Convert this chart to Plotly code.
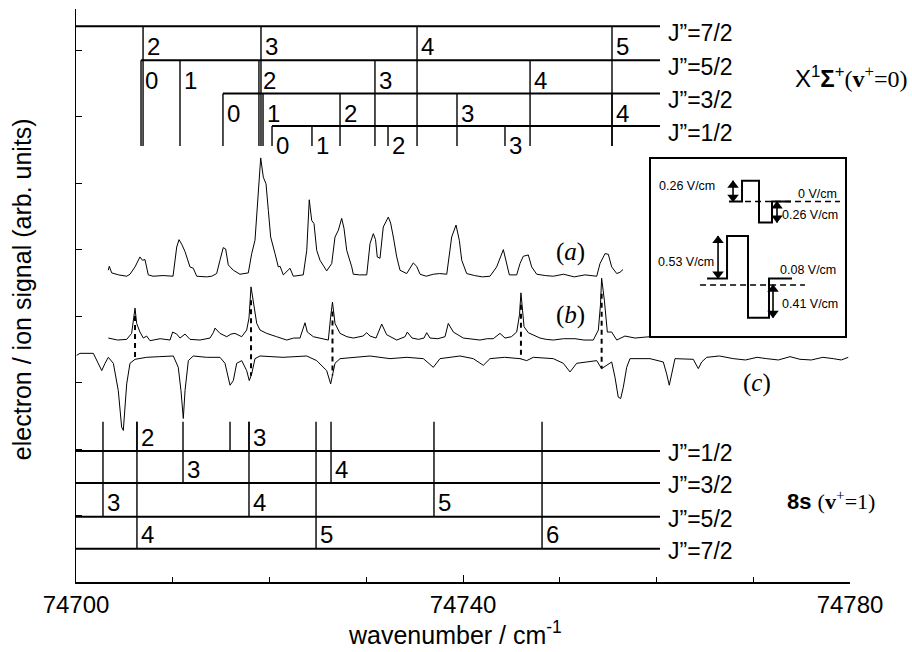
import numpy as np
import plotly.graph_objects as go

WN0 = 74700.0  # all wavenumbers below are given relative to this value (cm-1)

# ---- spectrum (a) ----
a_wn = [3.34, 3.44, 3.69, 4.40, 5.24, 5.58, 6.10, 6.61, 6.87, 7.13, 7.47, 7.96, 9.00, 10.03,
        10.41, 10.65, 10.93, 11.27, 11.78, 12.12, 12.48, 13.51, 14.03, 14.54, 14.88, 15.22,
        15.47, 15.74, 16.26, 16.95, 17.81, 18.16, 18.50, 18.84, 19.09, 19.36, 19.64, 19.88,
        20.12, 20.57, 20.91, 21.09, 21.43, 22.12, 22.46, 23.49, 23.85, 24.11, 24.36, 24.60,
        24.88, 25.22, 25.56, 25.91, 26.43, 26.77, 27.11, 27.46, 27.70, 27.98, 28.50, 28.66,
        29.30, 30.05, 30.39, 30.73, 30.96, 31.14, 31.42, 31.76, 32.28, 32.52, 32.80, 33.15,
        33.49, 34.18, 34.86, 35.21, 35.56, 36.20, 36.93, 37.60, 38.32, 38.83, 39.28, 39.62,
        39.87, 40.38, 41.20, 42.00, 42.79, 43.48, 44.17, 44.52, 44.79, 45.55, 45.89, 46.23,
        46.75, 47.10, 47.62, 48.50, 49.33, 50.40, 51.50, 52.60, 53.82, 54.16, 54.68, 55.02,
        55.37, 55.89, 56.23, 56.54]
a_sig = [0.09, 0.15, 0.05, 0.02, 0.00, 0.03, 0.14, 0.29, 0.24, 0.25, 0.02, 0.00, 0.01, 0.00,
         0.44, 0.55, 0.48, 0.37, 0.14, 0.12, 0.00, -0.01, 0.00, 0.04, 0.24, 0.43,
         0.41, 0.17, 0.09, 0.03, 0.05, 0.34, 0.54, 1.29, 1.78, 1.49, 1.39, 0.99,
         0.59, 0.34, 0.14, 0.15, 0.02, 0.12, 0.00, 0.02, 0.39, 1.15, 0.84, 0.79,
         0.39, 0.24, 0.15, 0.08, 0.19, 0.59, 0.69, 0.87, 0.72, 0.39, 0.14, 0.03,
         0.02, 0.02, 0.49, 0.64, 0.55, 0.29, 0.27, 0.74, 0.89, 0.80, 0.59, 0.29,
         0.09, 0.04, 0.20, 0.15, 0.03, 0.00, 0.03, 0.04, 0.03, 0.59, 0.77, 0.54,
         0.24, 0.04, 0.01, -0.01, 0.00, 0.14, 0.40, 0.19, 0.02, 0.02, 0.19, 0.30,
         0.32, 0.14, 0.03, 0.01, 0.00, 0.03, -0.01, 0.02, 0.00, 0.19, 0.34, 0.33,
         0.14, 0.04, 0.06, 0.10]

# ---- spectrum (b) ----
b_wn = [3.34, 4.30, 5.24, 5.75, 6.10, 6.27, 6.61, 6.96, 7.30, 7.65, 8.70, 9.72, 9.99, 10.41,
        10.75, 11.27, 11.78, 12.82, 13.85, 14.19, 14.37, 14.88, 15.58, 16.02, 16.43, 17.13,
        17.64, 17.88, 18.09, 18.33, 18.68, 19.02, 19.71, 20.74, 21.78, 22.50, 23.15, 23.67,
        23.91, 24.53, 25.30, 26.08, 26.32, 26.51, 26.77, 27.29, 28.00, 28.66, 29.66, 30.05,
        30.39, 31.01, 31.60, 32.11, 33.15, 34.01, 34.24, 34.73, 35.40, 35.97, 36.25, 36.59,
        37.40, 38.14, 38.48, 39.00, 40.03, 40.90, 41.76, 42.50, 43.13, 43.82, 44.34, 45.00,
        45.55, 45.84, 45.99, 46.31, 46.75, 47.96, 48.60, 49.33, 50.40, 51.58, 52.50, 53.47,
        53.99, 54.21, 54.33, 54.61, 54.92, 55.37, 55.89, 56.74, 57.78, 58.50, 59.33]
b_sig = [0.03, 0.00, 0.01, 0.10, 0.48, 0.25, 0.12, 0.03, 0.06, -0.01, 0.02, 0.00, 0.12, 0.09,
         0.03, 0.09, 0.01, 0.00, 0.03, 0.11, 0.18, 0.10, 0.05, 0.09, 0.10, 0.05,
         0.15, 0.33, 0.80, 0.60, 0.25, 0.15, 0.10, 0.05, 0.00, 0.03, 0.03, 0.26,
         0.12, 0.05, 0.02, 0.00, 0.35, 0.57, 0.25, 0.10, 0.05, 0.03, 0.06, 0.11,
         0.06, 0.03, 0.24, 0.08, 0.00, 0.05, 0.12, 0.03, 0.01, 0.03, 0.11, 0.03,
         0.02, 0.05, 0.25, 0.12, 0.03, 0.01, 0.00, 0.02, 0.02, 0.10, 0.03, 0.05,
         0.12, 0.38, 0.71, 0.20, 0.11, 0.03, 0.01, 0.00, 0.02, 0.02, 0.00, 0.00,
         0.15, 0.53, 0.93, 0.60, 0.12, 0.12, 0.00, 0.06, 0.03, 0.04, 0.05]

# ---- spectrum (c) ----
c_wn = [0.07, 0.41, 1.79, 2.14, 2.66, 3.00, 3.34, 3.86, 4.37, 4.72, 4.89, 5.24, 5.58, 6.10,
        7.30, 8.60, 10.06, 10.57, 10.85, 11.09, 11.27, 11.61, 12.12, 13.50, 14.88, 15.40,
        15.92, 16.26, 16.61, 17.13, 17.64, 17.91, 18.16, 18.50, 19.02, 21.40, 23.85, 24.88,
        25.91, 26.32, 26.77, 27.29, 28.66, 30.39, 32.45, 34.20, 35.90, 36.93, 37.62, 39.69,
        41.06, 42.10, 42.79, 44.30, 45.89, 46.58, 47.27, 49.33, 50.37, 51.06, 51.75, 53.82,
        54.33, 54.84, 55.37, 55.71, 56.05, 56.30, 56.57, 56.92, 57.26, 59.33, 60.70, 61.05,
        61.32, 61.57, 61.91, 63.80, 64.32, 64.67, 65.19, 66.50, 67.94, 69.20, 70.40, 71.38,
        72.60, 73.80, 74.83, 76.00, 77.20, 78.27, 79.10, 79.82]
c_sig = [0.03, 0.06, 0.06, -0.05, -0.20, -0.09, 0.00, -0.09, -0.50, -1.05, -1.10, -0.40, -0.09, -0.03,
         0.00, 0.01, 0.02, -0.15, -0.50, -0.92, -0.50, -0.05, 0.02, 0.00, 0.00, -0.09,
         -0.42, -0.35, -0.09, -0.05, -0.20, -0.35, -0.25, -0.02, 0.02, 0.00, 0.02, -0.05,
         -0.20, -0.40, -0.09, -0.02, 0.00, 0.02, -0.02, 0.00, -0.02, -0.15, -0.02, 0.02,
         -0.02, -0.12, -0.02, 0.00, -0.02, -0.05, 0.00, -0.02, -0.09, -0.22, -0.09, -0.05,
         -0.17, -0.12, -0.07, -0.30, -0.60, -0.62, -0.45, -0.15, -0.02, -0.02, -0.07, -0.25,
         -0.42, -0.25, -0.02, -0.03, -0.17, -0.07, 0.00, 0.02, -0.02, -0.04, 0.00, -0.02,
         -0.04, 0.01, -0.03, -0.04, 0.00, -0.02, -0.04, 0.00]

# lines common to (b) and (c), joined by dashed markers
common_wn = [6.10, 18.09, 26.51, 45.99, 54.33]

# ---- rotational assignment ladders: (position, N label) for each J" ----
ion_rows = ["7/2", "5/2", "3/2", "1/2"]
ion_lines = {
    "7/2": [(6.93, "2"), (19.12, "3"), (35.25, "4"), (55.40, "5")],
    "5/2": [(6.72, "0"), (10.75, "1"), (18.91, "2"), (30.90, "3"), (46.93, "4")],
    "3/2": [(15.19, "0"), (19.33, "1"), (27.29, "2"), (39.38, "3"), (55.40, "4")],
    "1/2": [(20.26, "0"), (24.39, "1"), (32.25, "2"), (44.34, "3")],
}
ryd_rows = ["1/2", "3/2", "5/2", "7/2"]
ryd_lines = {
    "1/2": [(6.30, "2"), (15.92, ""), (17.88, "3")],
    "3/2": [(11.06, "3"), (26.36, "4")],
    "5/2": [(2.79, "3"), (17.88, "4"), (37.00, "5")],
    "7/2": [(6.30, "4"), (24.81, "5"), (48.17, "6")],
}

# inset: field pulse sequences (time in arbitrary units, field in V/cm)
pulse1_t = [78, 91, 91, 108, 108, 121, 121, 140]
pulse1_f = [0.0, 0.0, 0.26, 0.26, -0.26, -0.26, 0.0, 0.0]
pulse2_t = [56, 76, 76, 97, 97, 118, 118, 141]
pulse2_f = [0.08, 0.08, 0.61, 0.61, -0.41, -0.41, 0.08, 0.08]

# ---- layout constants (positions on the arbitrary signal axis) ----
OFF_A, OFF_B, OFF_C = 4.60, 3.64, 3.38
ION_Y = [8.36, 7.85, 7.35, 6.86]
ION_FLOOR = 6.56
RYD_Y = [1.97, 1.49, 0.98, 0.50]
RYD_CEIL = 2.41
LADDER_END = 60.36
PULSE1_OFF = 1.04

SANS = "Liberation Sans, Arial, sans-serif"
SERIF = "Liberation Serif, Times New Roman, serif"

fig = go.Figure()
line = dict(color="black", width=1)

def wn(v):
    return [WN0 + x for x in v]

fig.add_trace(go.Scatter(x=wn(a_wn), y=[OFF_A + s for s in a_sig], mode="lines", line=line))
fig.add_trace(go.Scatter(x=wn(b_wn), y=[OFF_B + s for s in b_sig], mode="lines", line=line))
fig.add_trace(go.Scatter(x=wn(c_wn), y=[OFF_C + s for s in c_sig], mode="lines", line=line))

# dashed connectors between (b) and (c)
dx, dy = [], []
for x in common_wn:
    top = OFF_B + 0.75 * np.interp(x, b_wn, b_sig)
    bot = OFF_C + np.interp(x, c_wn, c_sig)
    dx += [WN0 + x, WN0 + x, None]
    dy += [top, bot, None]
fig.add_trace(go.Scatter(x=dx, y=dy, mode="lines",
                         line=dict(color="black", width=2, dash="5px,4px")))

annotations = []

def ladder(rows, levels, lines, edge, full_first, label_dy, jlabel_shift):
    hx, hy, vx, vy = [], [], [], []
    for i, (row, lev) in enumerate(zip(rows, levels)):
        pos = [p for p, _ in lines[row]]
        x0 = 0.0 if (not full_first or i == 0) else min(pos)
        hx += [WN0 + x0, WN0 + LADDER_END, None]
        hy += [lev, lev, None]
        for p, lab in lines[row]:
            vx += [WN0 + p, WN0 + p, None]
            vy += [lev, edge, None]
            if lab:
                annotations.append(dict(x=WN0 + p, y=lev + label_dy, text=lab, showarrow=False,
                                        xanchor="left", yanchor="middle", xshift=2,
                                        font=dict(family=SANS, size=24, color="black")))
        annotations.append(dict(x=WN0 + LADDER_END, y=lev, text="J\u201d=" + row, showarrow=False,
                                xanchor="left", yanchor="middle", xshift=6, yshift=jlabel_shift,
                                font=dict(family=SANS, size=23, color="black")))
    fig.add_trace(go.Scatter(x=hx, y=hy, mode="lines", line=dict(color="black", width=2)))
    fig.add_trace(go.Scatter(x=vx, y=vy, mode="lines", line=dict(color="black", width=1.4)))

ladder(ion_rows, ION_Y, ion_lines, ION_FLOOR, True, -0.30, -7)
ladder(ryd_rows, RYD_Y, ryd_lines, RYD_CEIL, False, 0.21, -2)

# spectrum labels
for txt, x, y in [("(<i>a</i>)", 51.06, 4.96), ("(<i>b</i>)", 51.06, 4.01), ("(<i>c</i>)", 70.42, 3.0)]:
    annotations.append(dict(x=WN0 + x, y=y, text=txt, showarrow=False,
                            font=dict(family=SERIF, size=25, color="black")))

annotations.append(dict(xref="paper", x=0.926, y=7.59, xanchor="left", yanchor="middle",
                        text="X<sup>1</sup><b>\u03a3</b><sup>+</sup><span style=\"font-family:'Liberation Serif'\">(<b>v</b><sup>+</sup>=0)</span>",
                        showarrow=False, font=dict(family=SANS, size=24, color="black")))
annotations.append(dict(xref="paper", x=0.916, y=1.23, xanchor="left", yanchor="middle",
                        text="<b>8s</b> <span style=\"font-family:'Liberation Serif'\">(<b>v</b><sup>+</sup>=1)</span>",
                        showarrow=False, font=dict(family=SANS, size=22, color="black")))

# axis titles
annotations.append(dict(xref="paper", yref="paper", x=-0.0698, y=0.511, textangle=-90,
                        text="electron / ion signal (arb. units)", showarrow=False,
                        xanchor="center", yanchor="middle",
                        font=dict(family=SANS, size=25, color="black")))
annotations.append(dict(xref="paper", yref="paper", x=0.49, y=-0.089,
                        text="wavenumber / cm<sup>-1</sup>", showarrow=False,
                        xanchor="center", yanchor="middle",
                        font=dict(family=SANS, size=25, color="black")))

# ---- inset with the field pulse sequences ----
fig.add_trace(go.Scatter(x=pulse1_t, y=[PULSE1_OFF + f for f in pulse1_f], mode="lines",
                         xaxis="x2", yaxis="y2", line=dict(color="black", width=2)))
fig.add_trace(go.Scatter(x=pulse2_t, y=pulse2_f, mode="lines",
                         xaxis="x2", yaxis="y2", line=dict(color="black", width=2)))
fig.add_trace(go.Scatter(x=[94, 189, None, 49, 154], y=[PULSE1_OFF, PULSE1_OFF, None, 0, 0],
                         mode="lines", xaxis="x2", yaxis="y2",
                         line=dict(color="black", width=1.5, dash="6px,4px")))

# double-headed arrows marking the field steps
HEAD = 0.055
ax_, ay_, hx_, hy_, hs_ = [], [], [], [], []
for t, f0, f1 in [(82, PULSE1_OFF, PULSE1_OFF + 0.26), (126, PULSE1_OFF, PULSE1_OFF - 0.26),
                  (67, 0.08, 0.61), (122, 0.0, -0.41)]:
    lo, hi = min(f0, f1), max(f0, f1)
    ax_ += [t, t, None]
    ay_ += [lo, hi, None]
    hx_ += [t, t]
    hy_ += [hi - HEAD, lo + HEAD]
    hs_ += ["triangle-up", "triangle-down"]
fig.add_trace(go.Scatter(x=ax_, y=ay_, mode="lines", xaxis="x2", yaxis="y2",
                         line=dict(color="black", width=1.6)))
fig.add_trace(go.Scatter(x=hx_, y=hy_, mode="markers", xaxis="x2", yaxis="y2",
                         marker=dict(symbol=hs_, size=10, color="black")))

for txt, x, y, anc in [("0.26 V/cm", 6, PULSE1_OFF + 0.20, "left"),
                       ("0 V/cm", 188, PULSE1_OFF + 0.09, "right"),
                       ("0.26 V/cm", 189, PULSE1_OFF - 0.17, "right"),
                       ("0.53 V/cm", 5, 0.28, "left"),
                       ("0.08 V/cm", 187, 0.18, "right"),
                       ("0.41 V/cm", 189, -0.24, "right")]:
    annotations.append(dict(xref="x2", yref="y2", x=x, y=y, text=txt, showarrow=False,
                            xanchor=anc, yanchor="middle",
                            font=dict(family=SANS, size=12.5, color="black")))

fig.update_layout(
    width=912, height=652,
    margin=dict(l=76, r=62, t=9, b=70),
    paper_bgcolor="white", plot_bgcolor="white",
    showlegend=False,
    xaxis=dict(range=[WN0, WN0 + 80], showgrid=False, zeroline=False,
               showline=True, linecolor="black", linewidth=1.5,
               ticks="inside", ticklen=7, tickcolor="black", tick0=WN0, dtick=40,
               minor=dict(dtick=10, ticks="inside", ticklen=5, tickcolor="black", showgrid=False),
               tickformat="d",
               tickfont=dict(family=SANS, size=24, color="black")),
    yaxis=dict(range=[0, 8.62], showgrid=False, zeroline=False,
               showline=True, linecolor="black", linewidth=1,
               ticks="inside", ticklen=6, tickcolor="black", tick0=0, dtick=1,
               showticklabels=False),
    xaxis2=dict(domain=[0.743, 0.9935], anchor="y2", range=[0, 194], showgrid=False,
                zeroline=False, showticklabels=False, ticks="", showline=True, mirror=True,
                linecolor="black", linewidth=2),
    yaxis2=dict(domain=[0.429, 0.738], anchor="x2", range=[-0.64, 1.57], showgrid=False,
                zeroline=False, showticklabels=False, ticks="", showline=True, mirror=True,
                linecolor="black", linewidth=2),
    annotations=annotations,
)

fig.write_html("out.html")
